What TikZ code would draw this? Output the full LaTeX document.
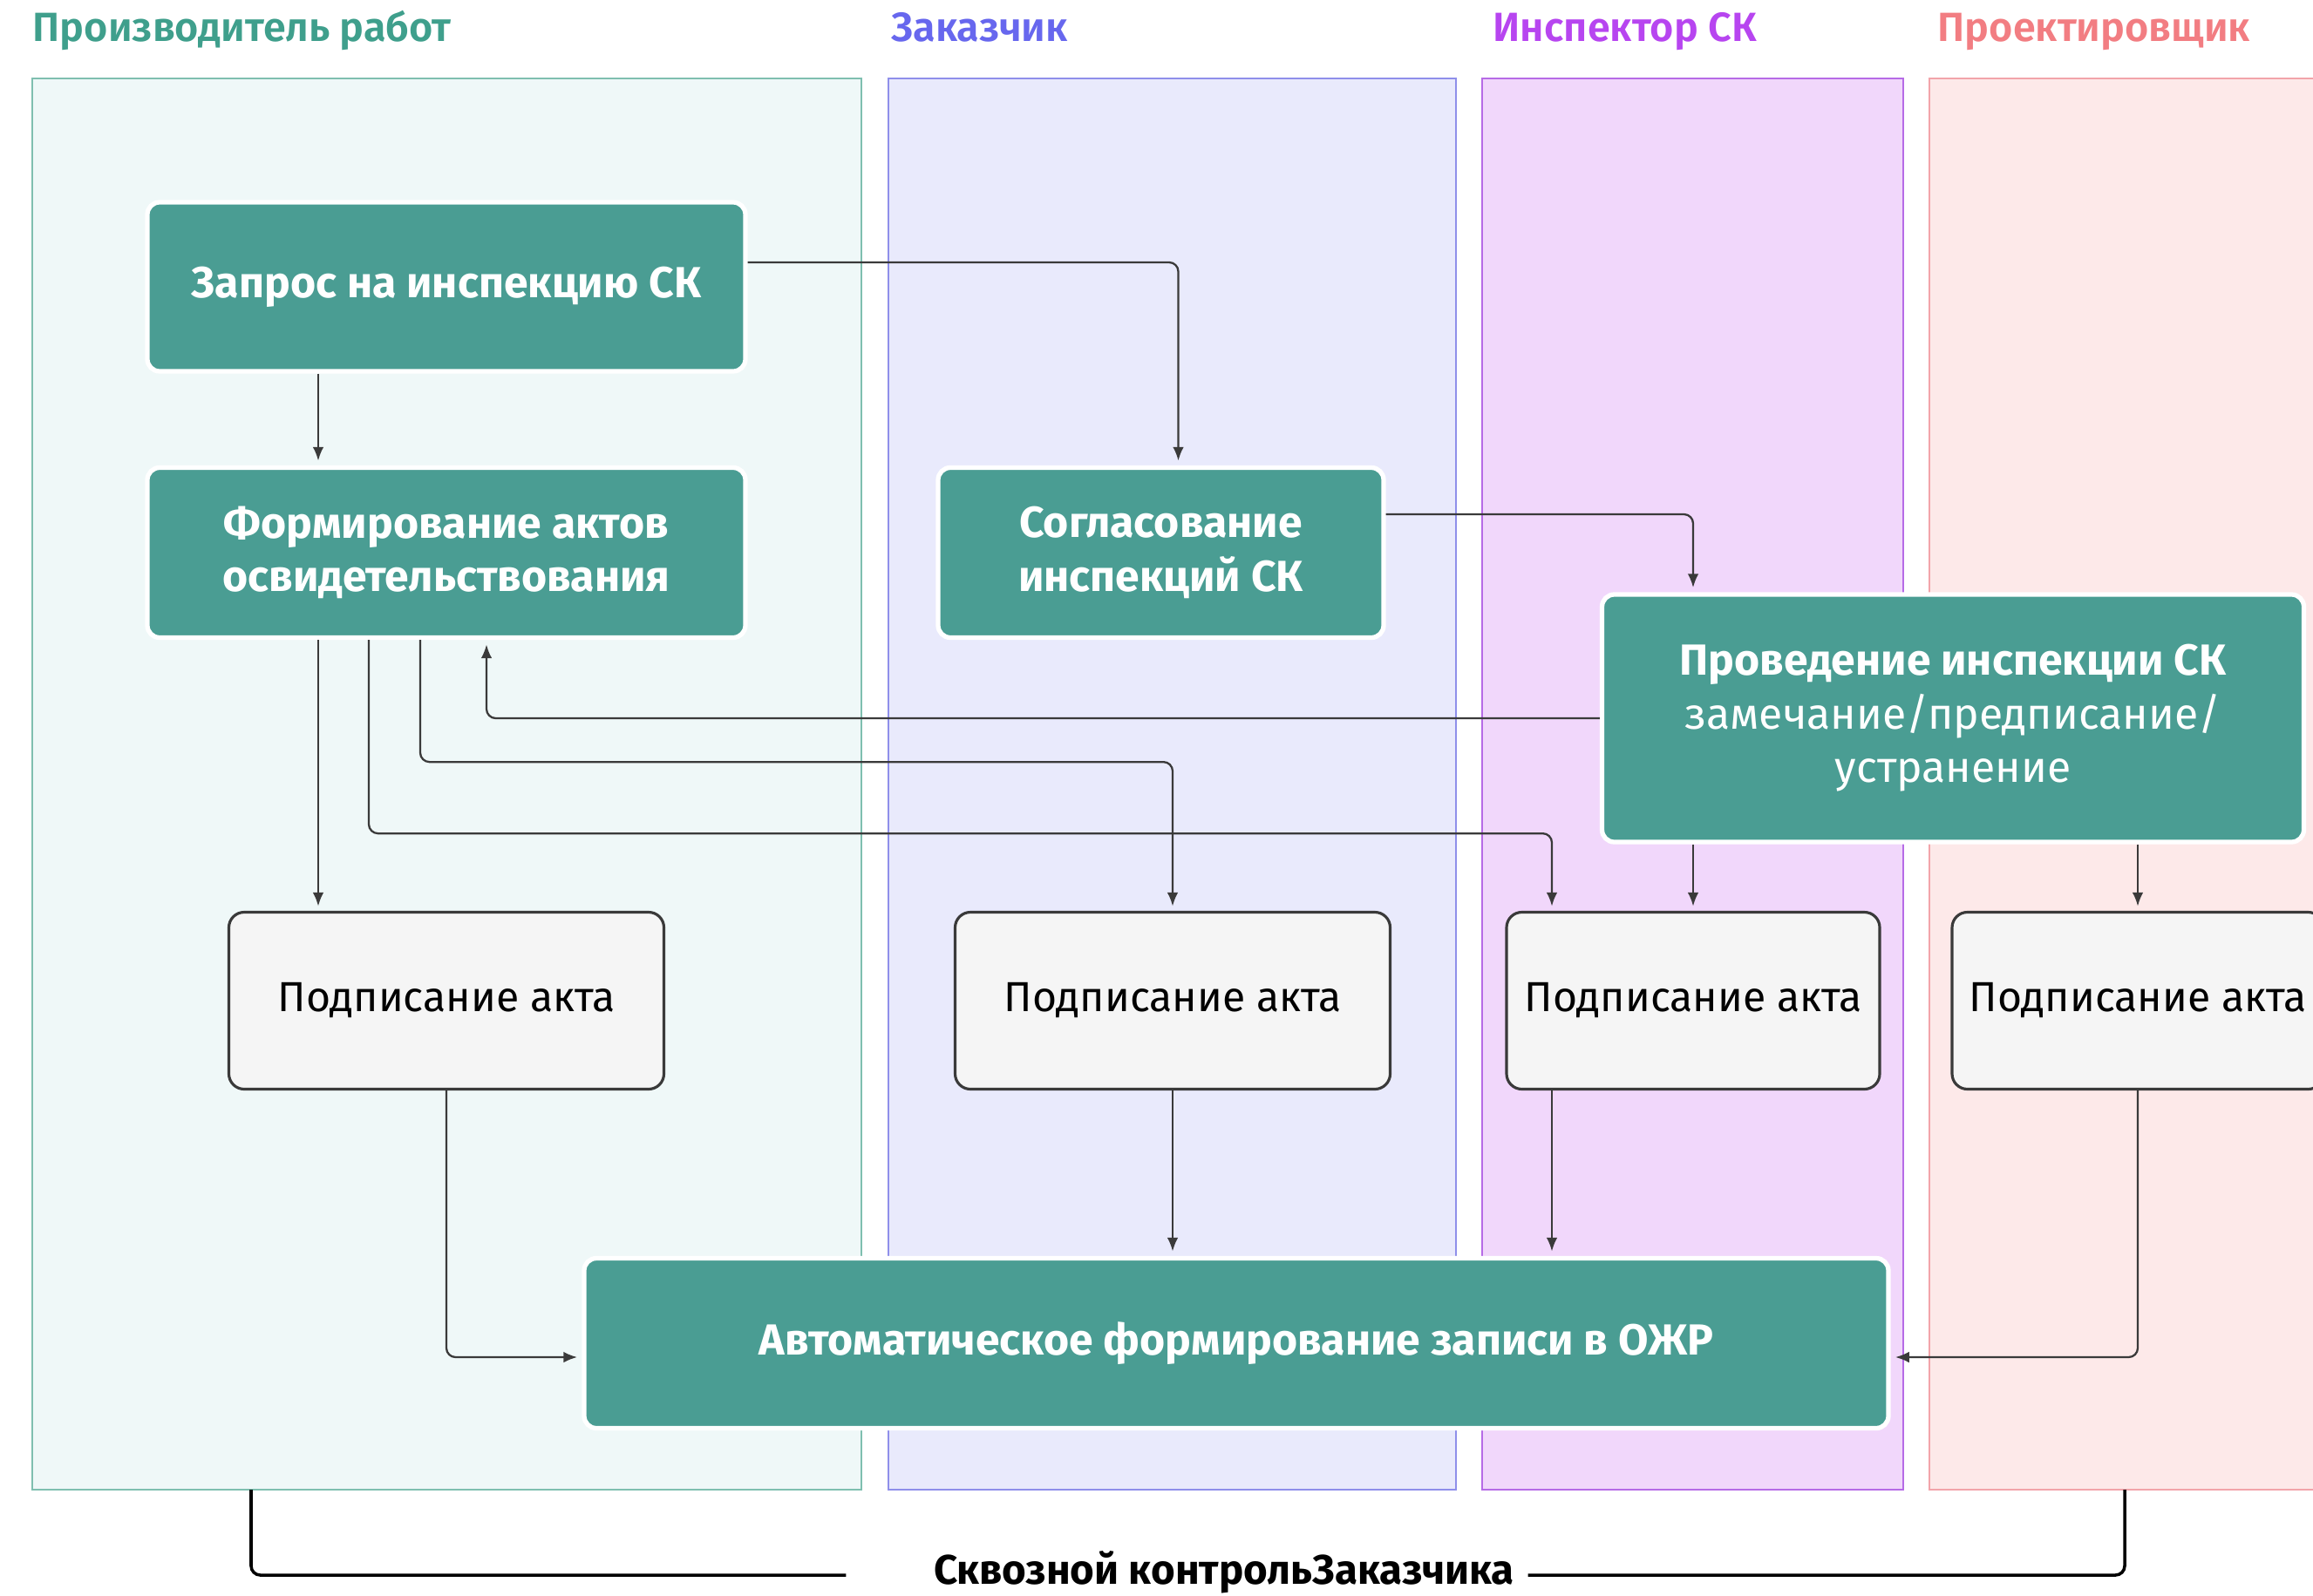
\documentclass[tikz,border=0pt]{standalone}
\usepackage{fontspec}
\setmainfont{Fira Sans}
\newfontfamily\semibf{Fira Sans SemiBold}
\usetikzlibrary{arrows.meta}
\definecolor{boxteal}{HTML}{4A9D93}
\definecolor{linegray}{HTML}{3A3A3A}
\definecolor{fillA}{HTML}{EFF8F8}\definecolor{drawA}{HTML}{7FBFB0}\definecolor{headA}{HTML}{3F9F8C}
\definecolor{fillB}{HTML}{E9EAFC}\definecolor{drawB}{HTML}{8F8FEA}\definecolor{headB}{HTML}{6767EE}
\definecolor{fillC}{HTML}{F1D7FB}\definecolor{drawC}{HTML}{B66BE6}\definecolor{headC}{HTML}{B745F0}
\definecolor{fillD}{HTML}{FDE9E9}\definecolor{drawD}{HTML}{F2A4AA}\definecolor{headD}{HTML}{F27D82}
\tikzset{
  lane/.style={rectangle, inner sep=0pt, outer sep=0pt, line width=0.6pt, minimum height=16.19cm},
  head/.style={anchor=base west, inner sep=0pt, font=\fontsize{13.3}{15}\selectfont\semibf},
  tealbox/.style={rectangle, rounded corners=4pt, fill=boxteal, draw=white, line width=1.5pt,
    text=white, align=center, font=\fontsize{14.2}{17.5}\selectfont\bfseries},
  signbox/.style={rectangle, rounded corners=5pt, fill=white!96!black, draw=linegray, line width=0.9pt,
    minimum width=4.99cm, minimum height=2.03cm, font=\fontsize{13.7}{16}\selectfont},
  conn/.style={draw=linegray, line width=0.65pt, rounded corners=3pt, shorten >=1.5pt,
    -{Latex[length=4.5pt,width=3.6pt]}},
  brace/.style={draw=black, line width=1pt, rounded corners=3pt}
}
\begin{document}
\begin{tikzpicture}
  \useasboundingbox (0,0) rectangle (26.53,-18.30);
  \fill[white] (0,0) rectangle (26.53,-18.30);

  \node[lane, fill=fillA, draw=drawA, minimum width=9.51cm] (laneA) at (5.125,-8.995) {};
  \node[lane, fill=fillB, draw=drawB, minimum width=6.51cm] (laneB) at (13.445,-8.995) {};
  \node[lane, fill=fillC, draw=drawC, minimum width=4.83cm] (laneC) at (19.415,-8.995) {};
  \node[lane, fill=fillD, draw=drawD, minimum width=5.00cm] (laneD) at (24.63,-8.995) {};

  \node[head, text=headA] (headA) at ([yshift=0.43cm]laneA.north west) {Производитель работ};
  \node[head, text=headB] (headB) at ([xshift=0.03cm, yshift=0.43cm]laneB.north west) {Заказчик};
  \node[head, text=headC] (headC) at ([xshift=0.12cm, yshift=0.43cm]laneC.north west) {Инспектор СК};
  \node[head, text=headD] (headD) at ([xshift=0.09cm, yshift=0.43cm]laneD.north west) {Проектировщик};

  \node[tealbox, minimum width=6.86cm, minimum height=1.94cm] (zapros) at (5.12,-3.29) {Запрос на инспекцию СК};
  \node[tealbox, minimum width=6.86cm, minimum height=1.95cm] (form) at (5.12,-6.34) {Формирование актов\\освидетельствования};
  \node[tealbox, minimum width=5.11cm, minimum height=1.95cm] (soglas) at (13.315,-6.34) {Согласование\\инспекций СК};
  \node[tealbox, minimum width=8.05cm, minimum height=2.84cm] (proved) at (22.40,-8.24)
    {Проведение инспекции СК\\\mdseries замечание/предписание/\\\mdseries устранение};

  \node[signbox] (podp1) at (5.12,-11.48) {Подписание акта};
  \node[signbox] (podp2) at (13.45,-11.48) {Подписание акта};
  \node[signbox, minimum width=4.28cm] (podp3) at (19.42,-11.48) {Подписание акта};
  \node[signbox, minimum width=4.26cm] (podp4) at (24.52,-11.48) {Подписание акта};

  \node[tealbox, minimum width=14.96cm, minimum height=1.95cm] (ozhr) at (14.18,-15.41) {Автоматическое формирование записи в ОЖР};

  \draw[conn] ([yshift=0.28cm]zapros.east) -| ([xshift=0.2cm]soglas.north);
  \draw[conn] ([xshift=-1.47cm]zapros.south) -- ([xshift=-1.47cm]form.north);
  \draw[conn] ([yshift=0.44cm]soglas.east) -| (proved.north -| podp3.north);
  \draw[conn] (proved.west) -| ([xshift=0.46cm]form.south);
  \draw[conn] ([xshift=-1.47cm]form.south) -- ([xshift=-1.47cm]podp1.north);
  \draw[conn] ([xshift=-0.30cm]form.south) -- ++(0,-1.40) -| (podp2.north);
  \draw[conn] ([xshift=-0.89cm]form.south) -- ++(0,-2.22) -| ([xshift=-1.62cm]podp3.north);
  \draw[conn] (proved.south -| podp3.north) -- (podp3.north);
  \draw[conn] (proved.south -| podp4.north) -- (podp4.north);
  \draw[conn] (podp1.south) |- ([yshift=-0.16cm]ozhr.west);
  \draw[conn] (podp2.south) -- (podp2.south |- ozhr.north);
  \draw[conn] ([xshift=-1.62cm]podp3.south) -- ([xshift=-1.62cm]podp3.south |- ozhr.north);
  \draw[conn] (podp4.south) |- ([yshift=-0.16cm]ozhr.east);

  \coordinate (brL) at (2.88,-17.09);
  \coordinate (brR) at (24.37,-17.09);
  \node[inner sep=0pt, font=\fontsize{13.5}{16}\selectfont\bfseries] (skvoz) at (14.04,-18.04) {Сквозной контрольЗаказчика};
  \draw[brace] (brL) |- ([xshift=-1.0cm, yshift=-0.03cm]skvoz.west);
  \draw[brace] ([xshift=0.15cm, yshift=-0.03cm]skvoz.east) -| (brR);
\end{tikzpicture}
\end{document}
